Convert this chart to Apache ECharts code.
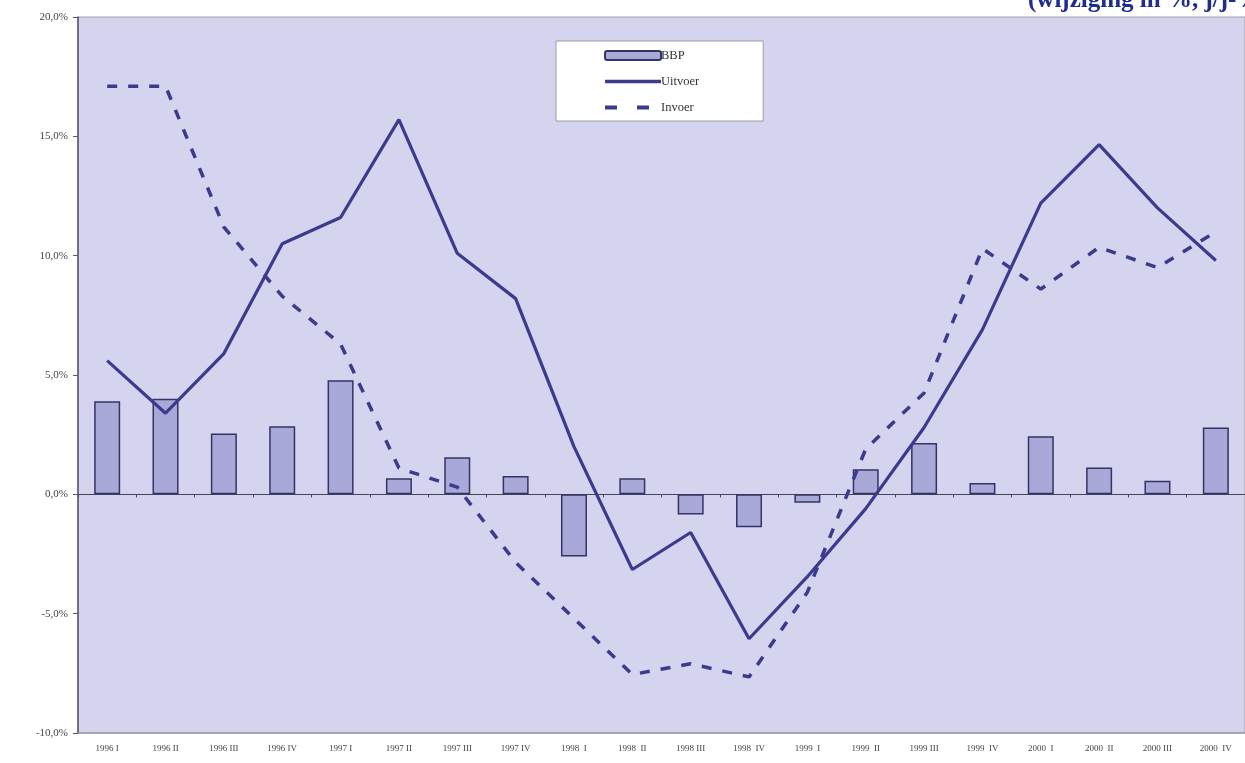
<!DOCTYPE html>
<html>
<head>
<meta charset="utf-8">
<script src="https://cdn.jsdelivr.net/npm/echarts@6/dist/echarts.min.js"></script>
<style>
  html, body { margin: 0; padding: 0; background: #ffffff; }
  #chart { width: 1245px; height: 763px; }
</style>
</head>
<body>
<div id="chart"></div>
<script>
// Quarterly growth, year on year (%)
const quarters = [
  '1996 I', '1996 II', '1996 III', '1996 IV',
  '1997 I', '1997 II', '1997 III', '1997 IV',
  '1998  I', '1998  II', '1998 III', '1998  IV',
  '1999  I', '1999  II', '1999 III', '1999  IV',
  '2000  I', '2000  II', '2000 III', '2000  IV'
];
const bbp = [3.9, 4.0, 2.55, 2.85, 4.78, 0.67, 1.55, 0.77, -2.6, 0.67,
             -0.85, -1.38, -0.35, 1.05, 2.15, 0.48, 2.43, 1.12, 0.57, 2.8];
const uitvoer = [5.6, 3.4, 5.9, 10.5, 11.6, 15.7, 10.1, 8.2, 2.0, -3.15,
                 -1.6, -6.05, -3.45, -0.6, 2.8, 6.9, 12.2, 14.65, 12.0, 9.8];
const invoer = [17.1, 17.1, 11.2, 8.3, 6.3, 1.1, 0.3, -2.85, -5.2, -7.55,
                -7.1, -7.65, -4.1, 1.9, 4.25, 10.3, 8.6, 10.35, 9.5, 11.0];
const yTicks = { min: -10, max: 20, step: 5 };

const ink = '#3a3a8e';
const chart = echarts.init(document.getElementById('chart'));

// line entries in the legend show the stroke only, no marker
const noMarker = { color: 'rgba(0,0,0,0)', borderWidth: 0 };

chart.setOption({
  backgroundColor: '#ffffff',
  animation: false,
  graphic: [{
    type: 'text',
    left: 1028,
    top: -12,
    style: {
      text: '(wijziging in %, j/j-%)',
      font: 'bold 25px "Liberation Serif", serif',
      fill: '#1f2e8c'
    }
  }],
  legend: {
    orient: 'vertical',
    left: 556,
    top: 41,
    backgroundColor: '#ffffff',
    borderColor: '#9a9aa6',
    borderWidth: 1,
    padding: [8, 64, 7, 47],
    itemWidth: 56,
    itemHeight: 9,
    itemGap: 13,
    textStyle: {
      fontFamily: '"Liberation Serif", serif',
      fontSize: 12.5,
      color: '#333',
      padding: [0, 0, 0, -5]
    },
    data: [
      { name: 'BBP' },
      { name: 'Uitvoer', itemStyle: noMarker, lineStyle: { width: 3.5 } },
      { name: 'Invoer', itemStyle: noMarker, lineStyle: { width: 4, type: [12, 20] } }
    ]
  },
  grid: {
    left: 78,
    right: -2,
    top: 17,
    bottom: 30,
    show: true,
    backgroundColor: '#d4d4ee',
    borderColor: '#a0a0b0',
    borderWidth: 1
  },
  xAxis: [{
    type: 'category',
    data: quarters,
    position: 'bottom',
    axisLine: { onZero: false, lineStyle: { color: '#9a9aaa', width: 1.5 } },
    axisTick: { show: false },
    axisLabel: {
      interval: 0,
      margin: 11,
      fontFamily: '"Liberation Serif", serif',
      fontSize: 9,
      color: '#444'
    }
  }, {
    // zero line with small ticks between the quarters
    type: 'category',
    data: quarters,
    position: 'bottom',
    axisLine: { onZero: true, lineStyle: { color: '#44445a', width: 1 } },
    axisTick: { show: true, inside: false, length: 3, lineStyle: { color: '#44445a' } },
    axisLabel: { show: false }
  }],
  yAxis: {
    type: 'value',
    min: yTicks.min,
    max: yTicks.max,
    interval: yTicks.step,
    axisLine: { show: true, lineStyle: { color: '#555566', width: 1.5 } },
    axisTick: { show: true, length: 5, lineStyle: { color: '#555566' } },
    splitLine: { show: false },
    axisLabel: {
      margin: 10,
      fontFamily: '"Liberation Serif", serif',
      fontSize: 11,
      color: '#444',
      formatter: v => v.toFixed(1).replace('.', ',') + '%'
    }
  },
  series: [{
    name: 'BBP',
    type: 'bar',
    xAxisIndex: 0,
    data: bbp,
    barWidth: 26,
    itemStyle: { color: '#a9a9d9', borderColor: '#333366', borderWidth: 1.5 }
  }, {
    name: 'Uitvoer',
    type: 'line',
    xAxisIndex: 0,
    data: uitvoer,
    symbol: 'none',
    lineStyle: { color: ink, width: 3.2 },
    itemStyle: { color: ink }
  }, {
    name: 'Invoer',
    type: 'line',
    xAxisIndex: 0,
    data: invoer,
    symbol: 'none',
    lineStyle: { color: ink, width: 3.5, type: [10, 11] },
    itemStyle: { color: ink }
  }]
});
</script>
</body>
</html>
